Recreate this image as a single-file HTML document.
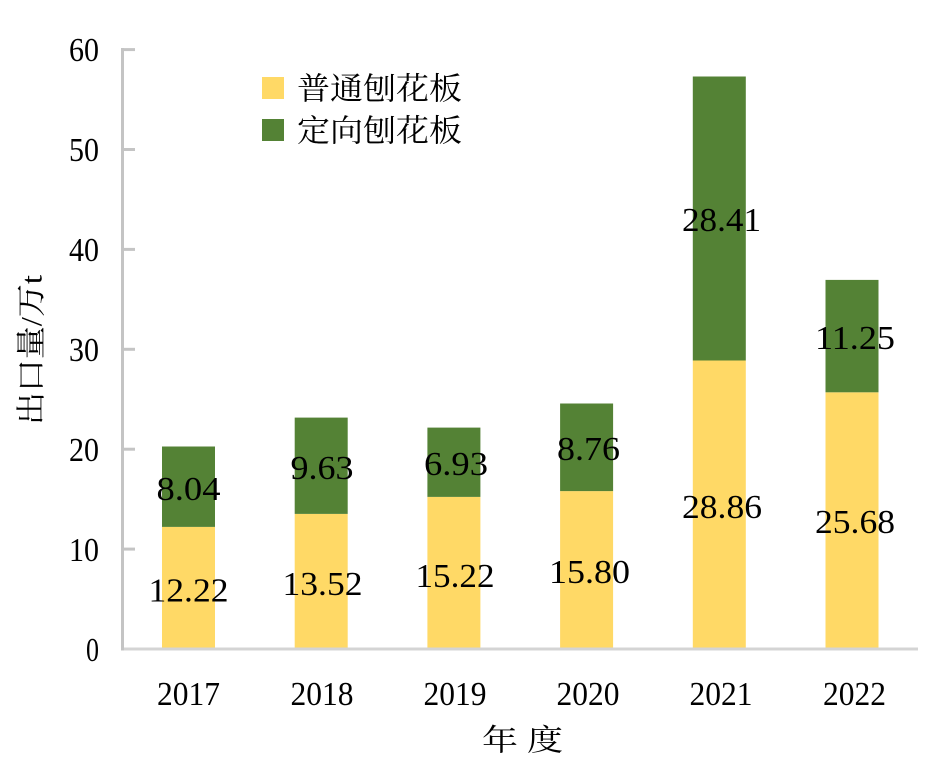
<!DOCTYPE html>
<html>
<head>
<meta charset="utf-8">
<style>
  html, body { margin: 0; padding: 0; background: #ffffff; }
  body { width: 951px; height: 775px; overflow: hidden; }
  svg { display: block; }
  .num { font-family: "Liberation Serif", "DejaVu Serif", serif; font-size: 34px; fill: #000; }
  .cjk { font-family: "Liberation Serif", "Noto Serif CJK SC", "Noto Sans CJK SC", serif; fill: #000; }
</style>
</head>
<body>
<svg width="951" height="775" viewBox="0 0 951 775" xmlns="http://www.w3.org/2000/svg">
  <rect x="0" y="0" width="951" height="775" fill="#ffffff"/>

  <!-- Bars -->
  <g>
    <rect x="162" y="526.9" width="53" height="122.1" fill="#FFD966"/>
    <rect x="162" y="446.5" width="53" height="80.4" fill="#548235"/>

    <rect x="294.7" y="513.9" width="53" height="135.1" fill="#FFD966"/>
    <rect x="294.7" y="417.6" width="53" height="96.3" fill="#548235"/>

    <rect x="427.4" y="496.9" width="53" height="152.1" fill="#FFD966"/>
    <rect x="427.4" y="427.6" width="53" height="69.3" fill="#548235"/>

    <rect x="560.1" y="491.1" width="53" height="157.9" fill="#FFD966"/>
    <rect x="560.1" y="403.5" width="53" height="87.6" fill="#548235"/>

    <rect x="692.8" y="360.5" width="53" height="288.5" fill="#FFD966"/>
    <rect x="692.8" y="76.5" width="53" height="284.0" fill="#548235"/>

    <rect x="825.5" y="392.3" width="53" height="256.7" fill="#FFD966"/>
    <rect x="825.5" y="279.9" width="53" height="112.4" fill="#548235"/>
  </g>

  <!-- Axes -->
  <line x1="121" y1="649" x2="918" y2="649" stroke="#d4d4d4" stroke-width="3"/>
  <line x1="122.5" y1="48" x2="122.5" y2="650.5" stroke="#c4c4c4" stroke-width="3"/>
  <g stroke="#c4c4c4" stroke-width="3">
    <line x1="122" y1="49.6" x2="135" y2="49.6"/>
    <line x1="122" y1="149.5" x2="135" y2="149.5"/>
    <line x1="122" y1="249.4" x2="135" y2="249.4"/>
    <line x1="122" y1="349.3" x2="135" y2="349.3"/>
    <line x1="122" y1="449.2" x2="135" y2="449.2"/>
    <line x1="122" y1="549.1" x2="135" y2="549.1"/>
  </g>

  <!-- Y tick labels -->
  <g class="num" text-anchor="end">
    <text x="99" y="61" textLength="30" lengthAdjust="spacingAndGlyphs">60</text>
    <text x="99" y="161" textLength="30" lengthAdjust="spacingAndGlyphs">50</text>
    <text x="99" y="261" textLength="30" lengthAdjust="spacingAndGlyphs">40</text>
    <text x="99" y="361" textLength="30" lengthAdjust="spacingAndGlyphs">30</text>
    <text x="99" y="461" textLength="30" lengthAdjust="spacingAndGlyphs">20</text>
    <text x="99" y="561" textLength="30" lengthAdjust="spacingAndGlyphs">10</text>
    <text x="99" y="661" textLength="13" lengthAdjust="spacingAndGlyphs">0</text>
  </g>

  <!-- X tick labels -->
  <g class="num" text-anchor="middle">
    <text x="188.5" y="705" textLength="63" lengthAdjust="spacingAndGlyphs">2017</text>
    <text x="322" y="705" textLength="63" lengthAdjust="spacingAndGlyphs">2018</text>
    <text x="455" y="705" textLength="63" lengthAdjust="spacingAndGlyphs">2019</text>
    <text x="588" y="705" textLength="63" lengthAdjust="spacingAndGlyphs">2020</text>
    <text x="721" y="705" textLength="63" lengthAdjust="spacingAndGlyphs">2021</text>
    <text x="854.5" y="705" textLength="63" lengthAdjust="spacingAndGlyphs">2022</text>
  </g>

  <!-- Data labels -->
  <g class="num" text-anchor="middle">
    <text x="188.5" y="601.5" textLength="80" lengthAdjust="spacingAndGlyphs">12.22</text>
    <text x="188.5" y="500" textLength="64" lengthAdjust="spacingAndGlyphs">8.04</text>

    <text x="322.5" y="595" textLength="80" lengthAdjust="spacingAndGlyphs">13.52</text>
    <text x="322" y="479" textLength="63" lengthAdjust="spacingAndGlyphs">9.63</text>

    <text x="455" y="587" textLength="79" lengthAdjust="spacingAndGlyphs">15.22</text>
    <text x="456" y="475" textLength="64" lengthAdjust="spacingAndGlyphs">6.93</text>

    <text x="589.5" y="583" textLength="81" lengthAdjust="spacingAndGlyphs">15.80</text>
    <text x="588.5" y="460" textLength="63" lengthAdjust="spacingAndGlyphs">8.76</text>

    <text x="722" y="518" textLength="80" lengthAdjust="spacingAndGlyphs">28.86</text>
    <text x="721.5" y="231" textLength="79" lengthAdjust="spacingAndGlyphs">28.41</text>

    <text x="855" y="533" textLength="80" lengthAdjust="spacingAndGlyphs">25.68</text>
    <text x="855" y="349" textLength="80" lengthAdjust="spacingAndGlyphs">11.25</text>
  </g>

  <!-- Legend -->
  <rect x="262" y="77" width="22" height="22" fill="#FFD966"/>
  <rect x="262" y="119" width="22" height="22" fill="#548235"/>
  <text class="cjk" x="297" y="89" font-size="31" dominant-baseline="central" textLength="165" lengthAdjust="spacingAndGlyphs">普通刨花板</text>
  <text class="cjk" x="297" y="131" font-size="31" dominant-baseline="central" textLength="165" lengthAdjust="spacingAndGlyphs">定向刨花板</text>

  <!-- Axis titles -->
  <text class="cjk" x="522.5" y="741" font-size="30" text-anchor="middle" dominant-baseline="central" textLength="81" lengthAdjust="spacingAndGlyphs">年 度</text>
  <text class="cjk" transform="translate(32,350) rotate(-90)" x="0" y="0" font-size="30" text-anchor="middle" dominant-baseline="central" textLength="150" lengthAdjust="spacingAndGlyphs">出口量/万t</text>
</svg>
</body>
</html>
